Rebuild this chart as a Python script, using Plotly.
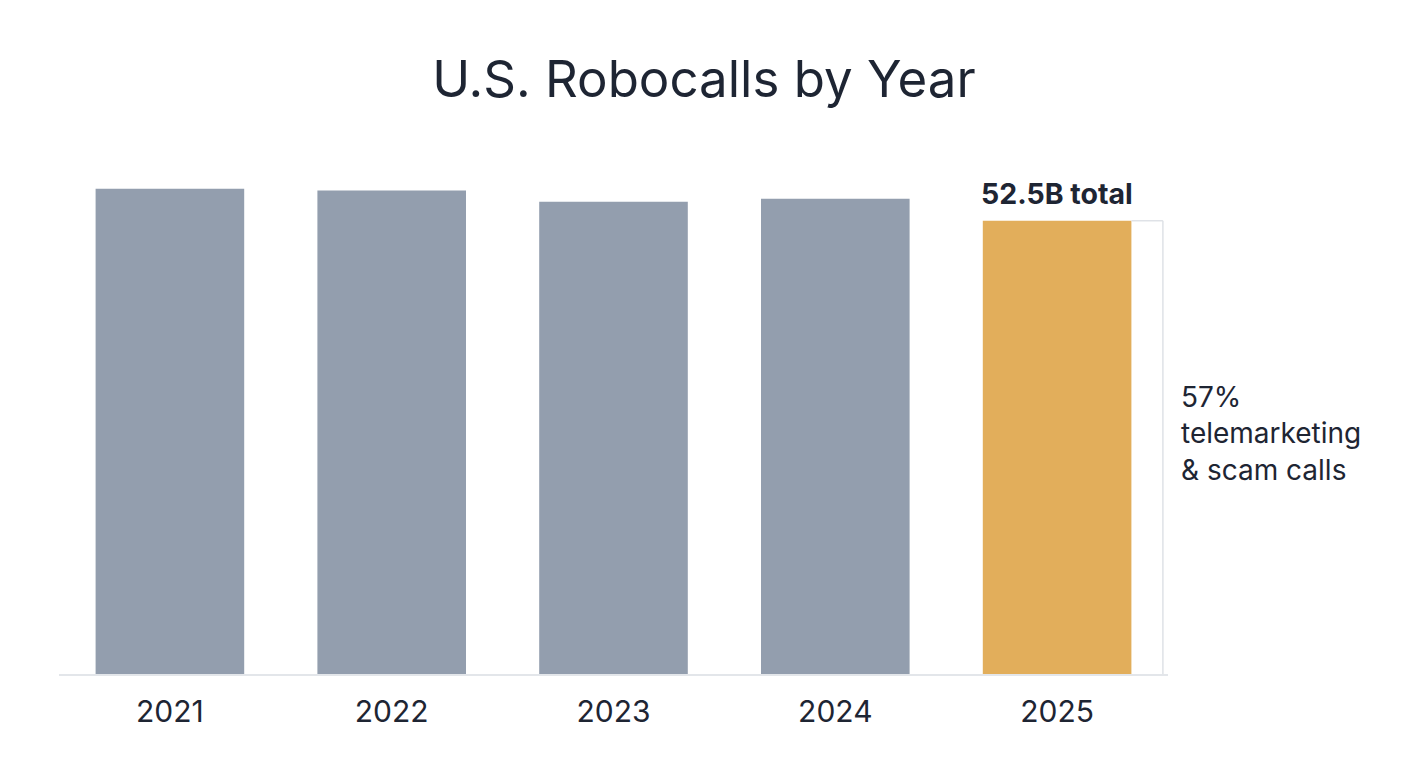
import plotly.graph_objects as go

# data (billions of calls)
years = ["2021", "2022", "2023", "2024", "2025"]
calls = [56.2, 56.0, 54.7, 55.05, 52.5]
total_label = "52.5B total"
share_label = "57%<br>telemarketing<br>&amp; scam calls"

GRAY = "#939eae"
GOLD = "#e2ae5b"
TEXT = "#1e2533"
FONT = "Inter, Roboto, sans-serif"

colors = [GRAY] * (len(years) - 1) + [GOLD]

fig = go.Figure()
fig.add_trace(go.Bar(
    x=years,
    y=calls,
    marker=dict(color=colors, line=dict(width=0)),
    width=0.67,
    hoverinfo="x+y",
    showlegend=False,
))

last = len(years) - 1
last_val = calls[-1]

# bracket next to the highlighted bar
fig.add_shape(type="line", xref="x", yref="y",
              x0=last + 0.335, x1=last + 0.477, y0=last_val, y1=last_val,
              line=dict(color="#dfe2e7", width=1.5))
fig.add_shape(type="line", xref="x", yref="y",
              x0=last + 0.477, x1=last + 0.477, y0=0, y1=last_val,
              line=dict(color="#dfe2e7", width=1.5))

fig.add_annotation(x=last, y=last_val, xref="x", yref="y",
                   text="<b>" + total_label + "</b>",
                   showarrow=False, yanchor="bottom", yshift=8,
                   font=dict(size=28.5, color=TEXT, family=FONT))
# out of the x range, so it has to sit on paper coordinates
fig.add_annotation(x=1.010, y=last_val * 0.53, xref="paper", yref="y",
                   text=share_label, showarrow=False, align="left",
                   xanchor="left", yanchor="middle",
                   font=dict(size=28, color=TEXT, family=FONT))

# the page body adds an 8px margin, so the figure is 16px smaller
fig.update_layout(
    title=dict(text="U.S. Robocalls by Year", x=0.5, xanchor="center",
               y=0.905, yanchor="middle",
               font=dict(size=51, color=TEXT, family=FONT)),
    width=1392,
    height=752,
    margin=dict(l=51, r=232, t=148, b=86),
    plot_bgcolor="white",
    paper_bgcolor="white",
    xaxis=dict(
        type="category",
        showgrid=False,
        showline=True,
        linecolor="#e3e6ea",
        linewidth=1.5,
        tickfont=dict(size=30, color=TEXT, family=FONT),
        ticks="",
        ticklabelstandoff=10,
        range=[-0.5, len(years) - 0.5],
    ),
    yaxis=dict(visible=False, range=[0, 60]),
)

fig.write_html("out.html")
